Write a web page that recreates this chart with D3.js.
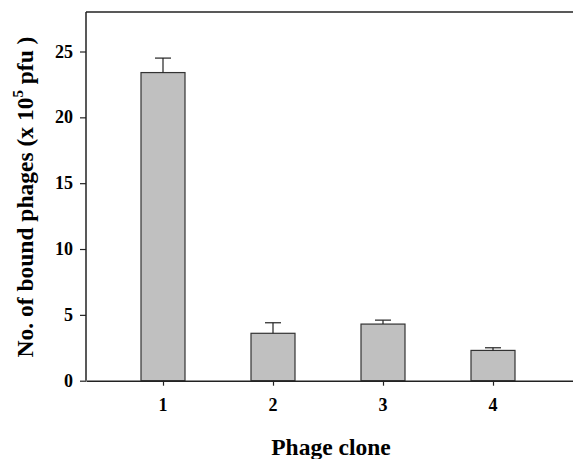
<!DOCTYPE html>
<html><head><meta charset="utf-8">
<script src="https://cdn.jsdelivr.net/npm/d3@7"></script>
<style>body{margin:0;background:#fff;} text{font-family:"Liberation Serif","Times New Roman",serif;font-weight:bold;}</style>
</head><body>
<svg id="c" width="573" height="459"></svg>
<script>
const categories = [1, 2, 3, 4];
const values = [23.4, 3.6, 4.3, 2.3];
const errors = [1.1, 0.8, 0.3, 0.2];
const yTicks = [0, 5, 10, 15, 20, 25];

const svg = d3.select("#c");
const x = d3.scaleLinear().domain([0.3, 4.75]).range([86, 575.5]);
const y = d3.scaleLinear().domain([0, 28]).range([380.7, 12]);
const barW = x(1.2) - x(0.8);

// top frame line
svg.append("line").attr("x1", x.range()[0]).attr("x2", x.range()[1])
  .attr("y1", y(28)).attr("y2", y(28)).attr("stroke", "#222").attr("stroke-width", 1.5);

// bars
svg.selectAll("rect.bar").data(categories).enter().append("rect")
  .attr("x", (d) => x(d) - barW / 2).attr("width", barW)
  .attr("y", (d, i) => y(values[i])).attr("height", (d, i) => y(0) - y(values[i]))
  .attr("fill", "#c0c0c0").attr("stroke", "#333").attr("stroke-width", 1.2);

// error bars (upper only)
const capW = 16;
const eb = svg.selectAll("g.eb").data(categories).enter().append("g");
eb.append("line").attr("x1", (d) => x(d)).attr("x2", (d) => x(d))
  .attr("y1", (d, i) => y(values[i])).attr("y2", (d, i) => y(values[i] + errors[i]))
  .attr("stroke", "#222").attr("stroke-width", 1.2);
eb.append("line").attr("x1", (d) => x(d) - capW / 2).attr("x2", (d) => x(d) + capW / 2)
  .attr("y1", (d, i) => y(values[i] + errors[i])).attr("y2", (d, i) => y(values[i] + errors[i]))
  .attr("stroke", "#222").attr("stroke-width", 1.2);

// axes (lines only, labels drawn as separate text)
const yAxis = svg.append("g").attr("transform", `translate(${x.range()[0]},0)`)
  .call(d3.axisLeft(y).tickValues(yTicks).tickSize(6).tickFormat("").tickSizeOuter(0));
const xAxis = svg.append("g").attr("transform", `translate(0,${y(0)})`)
  .call(d3.axisBottom(x).tickValues(categories).tickSize(5).tickFormat("").tickSizeOuter(0));
[yAxis, xAxis].forEach(g => {
  g.select(".domain").attr("stroke", "#222").attr("stroke-width", 1.5);
  g.selectAll(".tick line").attr("stroke", "#222").attr("stroke-width", 1.2);
});
yAxis.select(".domain").attr("d", `M0,${y(0)}V${y(28)}`);

svg.selectAll("text.yt").data(yTicks).enter().append("text")
  .attr("x", x.range()[0] - 13).attr("y", (d) => y(d)).attr("dy", "0.34em")
  .attr("text-anchor", "end").style("font-size", "18px").attr("fill", "#000").text((d) => d);
svg.selectAll("text.xt").data(categories).enter().append("text")
  .attr("x", (d) => x(d)).attr("y", y(0) + 30)
  .attr("text-anchor", "middle").style("font-size", "18px").attr("fill", "#000").text((d) => d);

// axis titles
svg.append("text").attr("x", 331).attr("y", 455).attr("text-anchor", "middle")
  .style("font-size", "23.5px").attr("fill", "#000").text("Phage clone");

const yl = svg.append("text").attr("transform", "translate(33,197) rotate(-90)")
  .attr("text-anchor", "middle").style("font-size", "23.5px").attr("fill", "#000");
yl.append("tspan").text("No. of bound phages (x 10");
yl.append("tspan").attr("dy", -10).style("font-size", "15px").text("5");
yl.append("tspan").attr("dy", 10).text(" pfu )");
</script>
</body></html>
